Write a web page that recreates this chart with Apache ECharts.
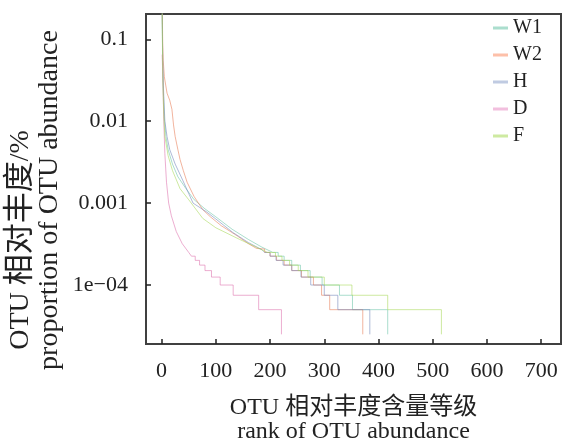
<!DOCTYPE html>
<html>
<head>
<meta charset="utf-8">
<script src="https://cdn.jsdelivr.net/npm/echarts@6/dist/echarts.min.js"></script>
<style>
  html, body { margin: 0; padding: 0; background: #fff; }
  #main { width: 563px; height: 441px; }
</style>
</head>
<body>
<div id="main"></div>
<script>
// rank-abundance points: [rank, proportion]
var W1 = [
    [1, 0.22], [2, 0.05], [3, 0.025], [5, 0.011], [8, 0.0065], [12, 0.0045], [20, 0.003], [30, 0.0021],
    [45, 0.0015], [60, 0.0011], [80, 0.00085], [100, 0.00068], [130, 0.00048], [160, 0.00036], [185, 0.00029], [200, 0.00026],
    [205, 2.5e-4], [215, 2.5e-4], [215, 2.25e-4], [226, 2.25e-4], [226, 2e-4], [240, 2e-4], [240, 1.75e-4], [256, 1.75e-4],
    [256, 1.5e-4], [274, 1.5e-4], [274, 1.25e-4], [296, 1.25e-4], [296, 1e-4], [328, 1e-4], [328, 7.5e-5], [352, 7.5e-5],
    [352, 5e-5], [417, 5e-5], [417, 2.5e-5]
];
var W2 = [
    [1, 0.3], [2, 0.09], [3, 0.055], [5, 0.035], [10, 0.022], [15, 0.018], [19, 0.014], [22, 0.009], [25, 0.0065],
    [30, 0.0045], [34, 0.0034], [40, 0.0025], [47, 0.0018], [60, 0.0012], [76, 0.00083], [90, 0.00068], [110, 0.00053],
    [139, 0.0004], [160, 0.00032], [175, 0.00028],
    [178, 2.75e-4], [190, 2.75e-4], [190, 2.5e-4], [200, 2.5e-4], [200, 2.25e-4], [212, 2.25e-4], [212, 2e-4], [226, 2e-4],
    [226, 1.75e-4], [240, 1.75e-4], [240, 1.5e-4], [258, 1.5e-4], [258, 1.25e-4], [280, 1.25e-4], [280, 1e-4], [295, 1e-4],
    [295, 7.5e-5], [310, 7.5e-5], [310, 5e-5], [371, 5e-5], [371, 2.5e-5]
];
var H = [
    [1, 0.25], [2, 0.06], [3, 0.03], [4, 0.02], [6, 0.01], [10, 0.0065], [15, 0.0045], [25, 0.003], [39, 0.0019],
    [58, 0.001], [83, 0.00078], [100, 0.00064], [131, 0.00044], [160, 0.00033], [185, 0.00027],
    [190, 2.5e-4], [200, 2.5e-4], [200, 2.25e-4], [211, 2.25e-4], [211, 2e-4], [224, 2e-4], [224, 1.75e-4], [240, 1.75e-4],
    [240, 1.5e-4], [257, 1.5e-4], [257, 1.25e-4], [275, 1.25e-4], [275, 1e-4], [300, 1e-4], [300, 7.5e-5], [325, 7.5e-5],
    [325, 5e-5], [384, 5e-5], [384, 2.5e-5]
];
var D = [
    [1, 0.065], [2, 0.04], [3, 0.02], [4, 0.01], [6, 0.004], [9, 0.0018], [13, 0.001], [18, 0.0007], [27, 0.00045],
    [38, 0.00032], [50, 0.00025],
    [55, 2.25e-4], [62, 2.25e-4], [62, 2e-4], [70, 2e-4], [70, 1.75e-4], [80, 1.75e-4], [80, 1.5e-4], [92, 1.5e-4],
    [92, 1.25e-4], [108, 1.25e-4], [108, 1e-4], [132, 1e-4], [132, 7.5e-5], [179, 7.5e-5], [179, 5e-5], [221, 5e-5],
    [221, 2.5e-5]
];
var F = [
    [1, 0.21], [2, 0.04], [3, 0.02], [4, 0.012], [6, 0.0065], [12, 0.0038], [20, 0.0025], [34, 0.0015], [50, 0.0011],
    [76, 0.00065], [100, 0.0005], [144, 0.00036], [170, 0.0003], [195, 0.00025],
    [200, 2.5e-4], [210, 2.5e-4], [210, 2.25e-4], [222, 2.25e-4], [222, 2e-4], [236, 2e-4], [236, 1.75e-4], [252, 1.75e-4],
    [252, 1.5e-4], [270, 1.5e-4], [270, 1.25e-4], [300, 1.25e-4], [300, 1e-4], [351, 1e-4], [351, 7.5e-5], [417, 7.5e-5],
    [417, 5e-5], [516, 5e-5], [516, 2.5e-5]
];

var seriesNames = ['W1', 'W2', 'H', 'D', 'F'];
var seriesData = [W1, W2, H, D, F];
var lineColors = ['rgba(102,194,165,0.7)', 'rgba(230,120,80,0.7)', 'rgba(120,140,190,0.75)', 'rgba(220,110,170,0.7)', 'rgba(166,216,84,0.7)'];
var keyColors = ['rgba(102,194,165,0.55)', 'rgba(252,141,98,0.55)', 'rgba(141,160,203,0.55)', 'rgba(231,138,195,0.55)', 'rgba(166,216,84,0.55)'];

var xTicks = [0, 100, 200, 300, 400, 500, 600, 700];
var yTicks = [1e-4, 1e-3, 1e-2, 1e-1];
var yTickText = { '-4': '1e\u221204', '-3': '0.001', '-2': '0.01', '-1': '0.1' };

var fontFam = '"Liberation Serif", "Times New Roman", "Noto Sans CJK SC", serif';

var myChart = echarts.init(document.getElementById('main'));

var series = [];
var legendData = [];
for (var i = 0; i < seriesNames.length; i++) {
    series.push({
        name: seriesNames[i],
        type: 'line',
        data: seriesData[i],
        showSymbol: false,
        symbol: 'none',
        lineStyle: { width: 0.8, color: lineColors[i] },
        itemStyle: { color: lineColors[i] },
        animation: false
    });
    legendData.push({ name: seriesNames[i], itemStyle: { color: keyColors[i] } });
}

var option = {
    animation: false,
    grid: {
        left: 146, right: 2, top: 14, bottom: 97,
        outerBoundsMode: 'none',
        containLabel: false,
        show: true, borderColor: '#404040', borderWidth: 2, backgroundColor: 'transparent'
    },
    legend: {
        orient: 'vertical',
        left: 488, top: 13,
        icon: 'rect',
        itemWidth: 15, itemHeight: 3,
        itemGap: 7,
        data: legendData,
        textStyle: { fontFamily: fontFam, fontSize: 20, color: '#222' }
    },
    xAxis: {
        type: 'value',
        min: -28.8, max: 736.6,
        axisLine: { show: false, onZero: false },
        splitLine: { show: false },
        axisTick: { show: true, inside: true, length: 5, customValues: xTicks, lineStyle: { color: '#222', width: 1.5 } },
        axisLabel: { customValues: xTicks, margin: 16, fontFamily: fontFam, fontSize: 22, color: '#222' },
        name: 'OTU 相对丰度含量等级\nrank of OTU abundance',
        nameLocation: 'middle',
        nameGap: 52,
        nameTextStyle: { fontFamily: fontFam, fontSize: 24, lineHeight: 24, color: '#222', verticalAlign: 'top' }
    },
    yAxis: {
        type: 'log',
        min: 1.905e-5, max: 0.2037,
        axisLine: { show: false, onZero: false },
        splitLine: { show: false },
        axisTick: { show: true, inside: true, length: 5, customValues: yTicks, lineStyle: { color: '#222', width: 1.5 } },
        axisLabel: {
            customValues: yTicks, margin: 18, fontFamily: fontFam, fontSize: 22, color: '#222',
            formatter: function (v) {
                return yTickText[String(Math.round(Math.log10(v)))];
            }
        }
    },
    graphic: [
        {
            type: 'text', x: 21, y: 240, rotation: Math.PI / 2,
            style: {
                text: '{a|OTU }{b|相对丰度}{a|/%}',
                rich: {
                    a: { fontFamily: fontFam, fontSize: 28, fill: '#222' },
                    b: { fontFamily: fontFam, fontSize: 31, fill: '#222' }
                },
                fill: '#222', align: 'center', verticalAlign: 'middle'
            }
        },
        {
            type: 'text', x: 50, y: 200, rotation: Math.PI / 2,
            style: { text: 'proportion of OTU abundance', fontFamily: fontFam, fontSize: 28, fill: '#222', align: 'center', verticalAlign: 'middle' }
        }
    ],
    series: series
};

myChart.setOption(option);
</script>
</body>
</html>
